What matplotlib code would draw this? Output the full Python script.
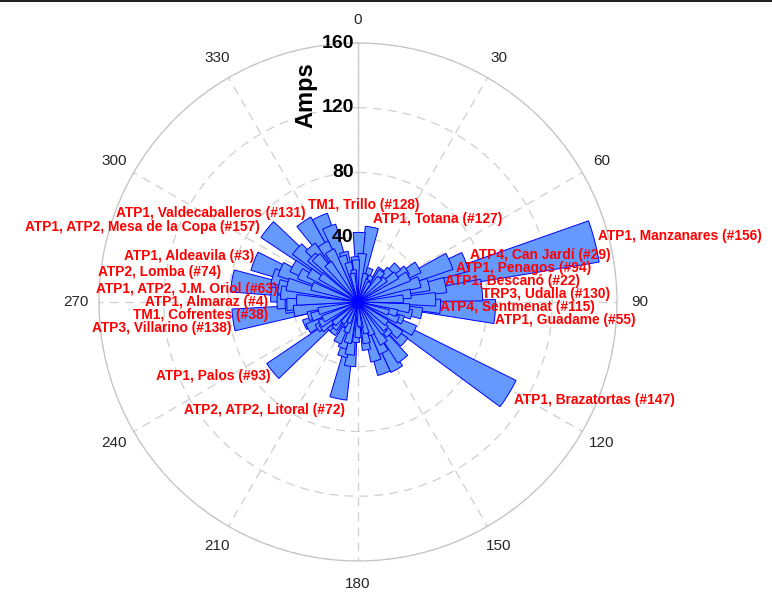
import numpy as np
import matplotlib
matplotlib.use("Agg")
import matplotlib.pyplot as plt
from matplotlib.lines import Line2D

plt.rcParams['font.family'] = ['Liberation Sans', 'DejaVu Sans']

# Direction of each peak (degrees, clockwise from north) and its amplitude (A)
bar_angles = [
    1, 10.5, 20, 27, 35, 42, 48, 55, 60, 66, 69.5, 72, 75.6, 79, 81, 84.5, 88, 93, 94,
    100, 106, 112, 117, 121.4, 126, 131, 136, 142, 148, 153, 160, 165, 170, 176,
    183, 187, 191.5, 196, 201, 207, 213, 219, 224, 231, 237, 242, 247, 252, 257,
    261.8, 266, 270, 275, 279.5, 281, 284, 287, 291.5, 296, 301, 308.6, 314, 319,
    326, 336, 341, 346, 352, 356,
    5, 15, 30, 50, 63, 86, 97, 109, 139, 157, 173, 194, 204, 216, 228, 244, 262,
    272, 289, 305, 322, 331, 349,
    -3, 24, 38, 45, 57, 76, 103, 114, 128, 134, 150, 163, 168, 180, 189, 199,
    210, 222, 234, 240, 254, 268, 277, 293, 299, 311, 317, 329, 339, 344,
]
bar_amps = [
    43, 47, 22, 18, 25, 20, 33, 29, 43, 62, 71, 40, 151, 55, 33, 77, 48, 51, 85,
    40, 25, 30, 39, 109, 22, 38, 28, 45, 30, 35, 47, 20, 30, 15,
    25, 40, 61, 35, 20, 28, 18, 25, 25, 68, 30, 35, 36, 30, 25,
    78, 45, 50, 54, 79, 50, 45, 55, 69, 40, 35, 72, 40, 45,
    60, 58, 30, 25, 20, 28,
    30, 18, 14, 22, 35, 28, 32, 20, 25, 22, 16, 26, 14, 16, 20, 24, 40,
    38, 30, 28, 30, 36, 18,
    26, 15, 24, 28, 36, 45, 34, 27, 33, 24, 48, 38, 26, 22, 33, 30,
    17, 22, 28, 27, 32, 44, 48, 52, 46, 50, 38, 42, 50, 32,
]
bar_width_deg = 10

# Substation labels and where their text sits (pixel anchor, alignment)
label_texts = [
    "ATP1, Valdecaballeros (#131)", "ATP1, ATP2, Mesa de la Copa (#157)",
    "ATP1, Aldeavila (#3)", "ATP2, Lomba (#74)", "ATP1, ATP2, J.M. Oriol (#63)",
    "ATP1, Almaraz (#4)", "TM1, Cofrentes (#38)", "ATP3, Villarino (#138)",
    "ATP1, Palos (#93)", "ATP2, ATP2, Litoral (#72)",
    "TM1, Trillo (#128)", "ATP1, Totana (#127)",
    "ATP1, Manzanares (#156)", "ATP4, Can Jardí (#29)", "ATP1, Penagos (#94)",
    "ATP1, Bescanó (#22)", "TRP3, Udalla (#130)", "ATP4, Sentmenat (#115)",
    "ATP1, Guadame (#55)", "ATP1, Brazatortas (#147)",
]
label_px = [
    (305, 213, 'right'), (260, 227, 'right'), (254, 256, 'right'),
    (221, 272, 'right'), (278, 289, 'right'), (268, 302, 'right'),
    (268, 315, 'right'), (231, 328, 'right'), (270, 376, 'right'),
    (345, 410, 'right'),
    (308, 205, 'left'), (373, 219, 'left'),
    (598, 236, 'left'), (470, 255, 'left'), (456, 268, 'left'),
    (445, 281, 'left'), (482, 294, 'left'), (440, 307, 'left'),
    (495, 320, 'left'), (514, 400, 'left'),
]

theta_ticks = list(range(0, 360, 30))
r_ticks = [40, 80, 120, 160]
r_max = 160

W, H = 772, 592
fig = plt.figure(figsize=(W / 100, H / 100), dpi=100)
fig.patch.set_facecolor('white')
ax = fig.add_axes([99 / W, 31 / H, 518 / W, 518 / H], projection='polar')
ax.set_theta_zero_location('N')
ax.set_theta_direction(-1)
ax.set_ylim(0, r_max)

grid_col = '#cfcfcf'
ax.set_xticks(np.deg2rad(theta_ticks))
ax.set_yticks(r_ticks)
ax.set_xticklabels([])
ax.set_yticklabels([])
ax.grid(True, color=grid_col, linestyle=(0, (7, 5)), linewidth=0.9)
ax.spines['polar'].set_color('#c4c4c4')
ax.spines['polar'].set_linewidth(0.9)
ax.tick_params(length=0)
# solid radial axis line along 0 degrees
ax.plot([0, 0], [0, r_max], color='#cccccc', lw=1.0, zorder=1)

# bars: larger first so shorter ones sit on top
order = np.argsort(bar_amps, kind='stable')[::-1]
th = np.deg2rad(np.array(bar_angles, dtype=float))[order]
rr = np.array(bar_amps, dtype=float)[order]
for t, r in zip(th, rr):
    ax.bar(t, r, width=np.deg2rad(bar_width_deg), bottom=0,
           color='#6699ff', edgecolor='#0000ff', linewidth=0.7, zorder=2)

# angle labels
for a in theta_ticks:
    ax.text(np.deg2rad(a), 174, str(a), ha='center', va='center',
            fontsize=11, color='#262626')

# radial labels
for r in r_ticks:
    ax.annotate(str(r), xy=(0, r), xytext=(-3, 0), textcoords='offset points',
                ha='right', va='center', fontsize=14, fontweight='bold',
                color='black', zorder=5)

ax.text(np.deg2rad(345.9), 131.8, 'Amps', rotation=90, ha='center',
        va='center', fontsize=17, fontweight='bold', color='black')

for txt, (x, y, ha) in zip(label_texts, label_px):
    fig.text(x / W, 1 - y / H, txt, ha=ha, va='center', fontsize=9.9,
             fontweight='bold', color='#ff0000', zorder=10)

fig.add_artist(Line2D([0, 1], [1, 1], color='#222222', lw=2.2,
                      transform=fig.transFigure))

fig.savefig('out.png', dpi=100)
